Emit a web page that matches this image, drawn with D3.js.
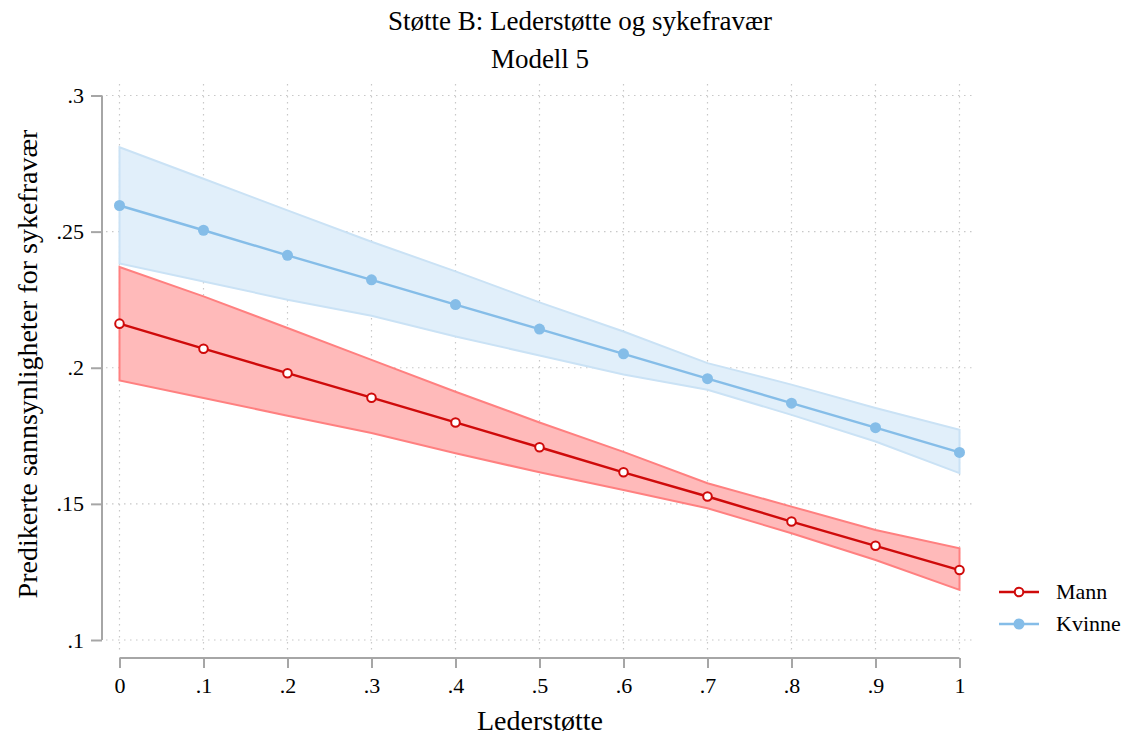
<!DOCTYPE html>
<html>
<head>
<meta charset="utf-8">
<script src="https://cdn.jsdelivr.net/npm/d3@7"></script>
<style>
    body { margin: 0; background: #fff; }
    text { font-family: "Liberation Serif", "DejaVu Serif", serif; fill: #000; }
</style>
</head>
<body>
<div id="chart"></div>
<script>
// data
const xVals = [0, 0.1, 0.2, 0.3, 0.4, 0.5, 0.6, 0.7, 0.8, 0.9, 1];
const xTicks = [0, 0.1, 0.2, 0.3, 0.4, 0.5, 0.6, 0.7, 0.8, 0.9, 1];
const yTicks = [0.1, 0.15, 0.2, 0.25, 0.3];

const mann = [.2162, .2070, .1980, .1890, .1799, .1708, .1616, .1527, .1435, .1346, .1257];
const mannHi = [.2370, .2262, .2146, .2029, .1912, .1799, .1691, .1576, .1490, .1404, .1337];
const mannLo = [.1953, .1889, .1824, .1760, .1686, .1616, .1551, .1484, .1392, .1294, .1184];

const kvinne = [.2596, .2505, .2413, .2323, .2232, .2142, .2051, .1960, .1870, .1780, .1689];
const kvinneHi = [.2810, .2694, .2578, .2463, .2354, .2240, .2133, .2017, .1938, .1852, .1772];
const kvinneLo = [.2383, .2317, .2250, .2191, .2115, .2045, .1975, .1919, .1827, .1729, .1613];

const W = 1126, H = 736;

// tick label like stata: .1 instead of 0.1
const fmt = v => v === 0 ? "0" : v === 1 ? "1" : String(+v.toFixed(2)).replace(/^0\./, ".");

const x = d3.scaleLinear().domain([0, 1]).range([119.5, 959.5]);
const y = d3.scaleLinear().domain([0.1, 0.3]).range([640, 95.5]);

const svg = d3.select("#chart").append("svg")
    .attr("width", W)
    .attr("height", H);

// grid
const grid = svg.append("g").attr("class", "grid");
grid.selectAll(".hgrid").data(yTicks).enter().append("line")
    .attr("x1", 106).attr("x2", 976)
    .attr("y1", d => y(d)).attr("y2", d => y(d))
    .attr("stroke", "#c8c8c8").attr("stroke-width", 1.2)
    .attr("stroke-dasharray", "1.5,4.5");
grid.selectAll(".vgrid").data(xTicks).enter().append("line")
    .attr("x1", d => x(d)).attr("x2", d => x(d))
    .attr("y1", 84).attr("y2", 652)
    .attr("stroke", "#c8c8c8").attr("stroke-width", 1.2)
    .attr("stroke-dasharray", "1.5,4.5");

const series = [
    { name: "Mann", mid: mann, hi: mannHi, lo: mannLo,
      line: "#cf0a0a", fill: "#ffbaba", edge: "#ff8080", hollow: true },
    { name: "Kvinne", mid: kvinne, hi: kvinneHi, lo: kvinneLo,
      line: "#85bde8", fill: "#e1effa", edge: "#cae2f5", hollow: false }
];

const area = d3.area()
    .x((d, i) => x(xVals[i]))
    .y0(d => y(d[0]))
    .y1(d => y(d[1]));

const line = d3.line()
    .x((d, i) => x(xVals[i]))
    .y(d => y(d));

// bands first (kvinne behind mann as in the picture)
[series[1], series[0]].forEach(s => {
    const band = s.lo.map((v, i) => [v, s.hi[i]]);
    svg.append("path")
        .datum(band)
        .attr("d", area)
        .attr("fill", s.fill)
        .attr("stroke", s.edge)
        .attr("stroke-width", 2)
        .attr("stroke-linejoin", "miter");
});

[series[1], series[0]].forEach(s => {
    svg.append("path")
        .datum(s.mid)
        .attr("d", line)
        .attr("fill", "none")
        .attr("stroke", s.line)
        .attr("stroke-width", 2.4);

    svg.selectAll(".pt-" + s.name).data(s.mid).enter().append("circle")
        .attr("cx", (d, i) => x(xVals[i]))
        .attr("cy", d => y(d))
        .attr("r", s.hollow ? 4.3 : 5.5)
        .attr("fill", s.hollow ? "#fff" : s.line)
        .attr("stroke", s.line)
        .attr("stroke-width", s.hollow ? 2 : 0);
});

// y axis
const yAxis = svg.append("g").attr("transform", "translate(102,0)")
    .call(d3.axisLeft(y).tickValues(yTicks).tickSize(11).tickPadding(7).tickFormat(fmt));
// x axis
const xAxis = svg.append("g").attr("transform", "translate(0,658)")
    .call(d3.axisBottom(x).tickValues(xTicks).tickSize(10).tickPadding(9).tickFormat(fmt));

[yAxis, xAxis].forEach(a => {
    a.select(".domain").attr("stroke", "#a6a6a6").attr("stroke-width", 2);
    a.selectAll(".tick line").attr("stroke", "#a6a6a6").attr("stroke-width", 2);
    a.selectAll(".tick text")
        .style("font-family", "Liberation Serif, serif")
        .style("font-size", "22px")
        .attr("fill", "#000");
});
yAxis.select(".domain").attr("d", "M-0," + y(0.3) + "V" + y(0.1));
xAxis.select(".domain").attr("d", "M" + x(0) + ",0H" + x(1));

// titles
svg.append("text")
    .attr("x", 580).attr("y", 30)
    .attr("text-anchor", "middle")
    .style("font-size", "27px")
    .text("Støtte B: Lederstøtte og sykefravær");
svg.append("text")
    .attr("x", 540).attr("y", 68)
    .attr("text-anchor", "middle")
    .style("font-size", "27px")
    .text("Modell 5");

svg.append("text")
    .attr("transform", "translate(37,364) rotate(-90)")
    .attr("text-anchor", "middle")
    .style("font-size", "28px")
    .text("Predikerte sannsynligheter for sykefravær");

svg.append("text")
    .attr("x", 540).attr("y", 730)
    .attr("text-anchor", "middle")
    .style("font-size", "28px")
    .text("Lederstøtte");

// legend
const legend = svg.append("g").attr("class", "legend");
series.forEach((s, i) => {
    const ly = 592 + i * 32;
    legend.append("line")
        .attr("x1", 999).attr("x2", 1039)
        .attr("y1", ly).attr("y2", ly)
        .attr("stroke", s.line).attr("stroke-width", 2.4);
    legend.append("circle")
        .attr("cx", 1019).attr("cy", ly)
        .attr("r", s.hollow ? 4.3 : 5.5)
        .attr("fill", s.hollow ? "#fff" : s.line)
        .attr("stroke", s.line)
        .attr("stroke-width", s.hollow ? 2 : 0);
    legend.append("text")
        .attr("x", 1056).attr("y", ly + 7)
        .style("font-size", "22px")
        .text(s.name);
});
</script>
</body>
</html>
